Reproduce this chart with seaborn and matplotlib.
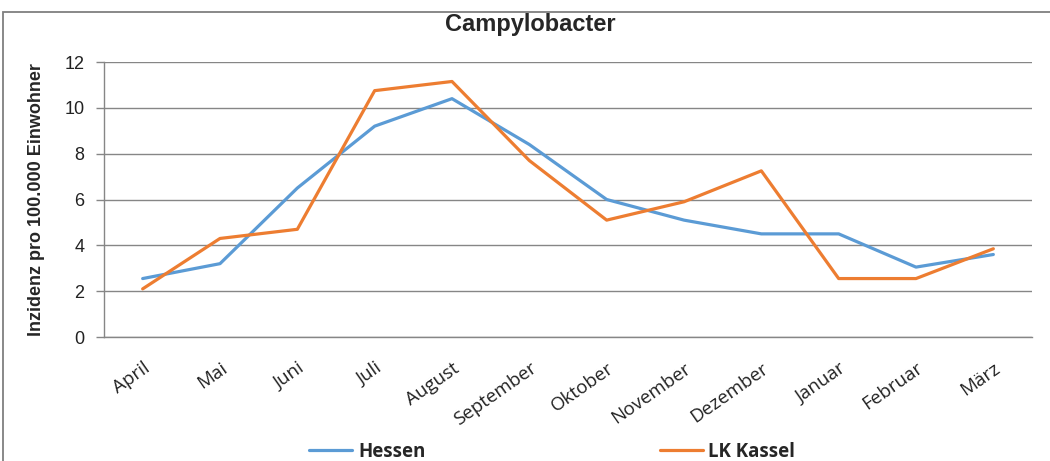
import numpy as np
import pandas as pd
import matplotlib.pyplot as plt
import seaborn as sns
from matplotlib.patches import Rectangle

months = ['April', 'Mai', 'Juni', 'Juli', 'August', 'September', 'Oktober',
          'November', 'Dezember', 'Januar', 'Februar', 'März']
hessen = [2.55, 3.2, 6.5, 9.2, 10.4, 8.4, 6.0, 5.1, 4.5, 4.5, 3.05, 3.6]
kassel = [2.1, 4.3, 4.7, 10.75, 11.15, 7.7, 5.1, 5.9, 7.25, 2.55, 2.55, 3.85]
y_ticks = [0, 2, 4, 6, 8, 10, 12]

df = pd.DataFrame({
    'pos': list(range(len(months))) * 2,
    'value': hessen + kassel,
    'Region': ['Hessen'] * len(months) + ['LK Kassel'] * len(months),
})

sns.set_style('white')
plt.rcParams['font.family'] = ['Open Sans', 'DejaVu Sans']

fig = plt.figure(figsize=(10.5, 4.61), dpi=100)
ax = fig.add_axes([104 / 1050, 1 - 337 / 461, (1032 - 104) / 1050, (337 - 62) / 461])

# outer chart border (cut off at right/bottom)
fig.patches.append(Rectangle((3 / 1050, -0.1), 1.1, 1 - 12 / 461 + 0.1,
                             transform=fig.transFigure, fill=False,
                             edgecolor='#7f7f7f', linewidth=1.3))

sns.lineplot(data=df, x='pos', y='value', hue='Region',
             palette={'Hessen': '#5B9BD5', 'LK Kassel': '#ED7D31'},
             linewidth=2.3, ax=ax, legend=False)

ax.set_xlim(-0.5, len(months) - 0.5)
ax.set_ylim(0, 12)
ax.set_yticks(y_ticks)
ax.set_yticklabels([str(v) for v in y_ticks], fontsize=13, family='Liberation Sans')
ax.yaxis.grid(True, color='#868686', linewidth=1)
ax.set_axisbelow(True)

ax.set_xticks(range(len(months)))
ax.set_xticklabels(months, fontsize=13.5, rotation=35, ha='right',
                   rotation_mode='anchor', color='#222222')
ax.set_xticks(np.arange(-0.5, len(months)), minor=True)
ax.tick_params(axis='x', which='major', length=0, pad=16)
ax.tick_params(axis='x', which='minor', length=6, color='#868686', width=1)
ax.tick_params(axis='y', which='major', length=6, color='#868686', width=1,
               left=True, pad=8, labelcolor='#222222')

for s in ['top', 'right']:
    ax.spines[s].set_visible(False)
for s in ['left', 'bottom']:
    ax.spines[s].set_color('#868686')
    ax.spines[s].set_linewidth(1)

ax.set_xlabel('')
ax.set_ylabel('Inzidenz pro 100.000 Einwohner', fontsize=13, fontweight='bold',
              family='Liberation Sans', labelpad=14)

fig.text(0.505, 1 - 24 / 461, 'Campylobacter', ha='center', va='center',
         fontsize=17, fontweight='bold', family='Liberation Sans')

handles = [plt.Line2D([], [], color='#5B9BD5', linewidth=2.3),
           plt.Line2D([], [], color='#ED7D31', linewidth=2.3)]
fig.legend(handles, ['Hessen', 'LK Kassel'], loc='center', ncol=2,
           bbox_to_anchor=(0.526, 1 - 452 / 461), frameon=False,
           prop={'size': 13.5, 'weight': 'bold'}, handlelength=2.3,
           handletextpad=0.3, columnspacing=12.5)

fig.savefig('out.png', dpi=100, facecolor='white')
